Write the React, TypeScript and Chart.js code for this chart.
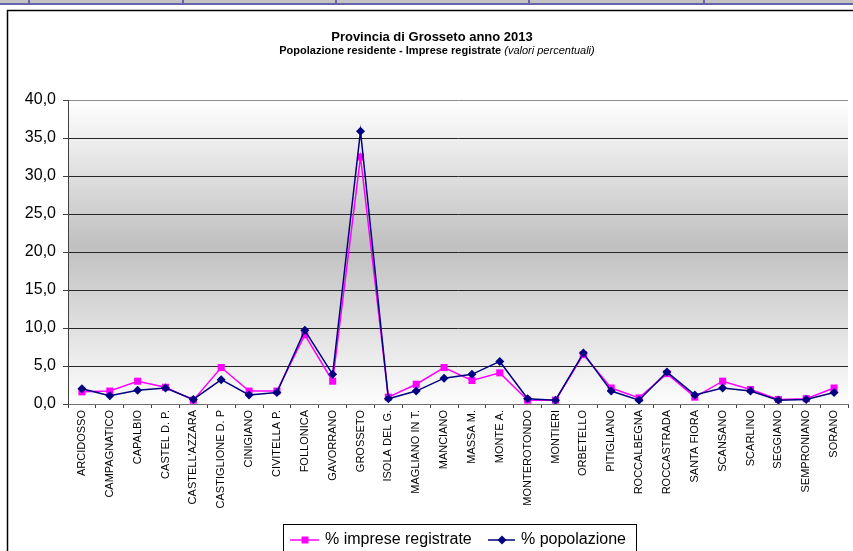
import React, { useEffect, useRef } from 'react';
import { Chart, registerables } from 'chart.js';

Chart.register(...registerables);

const FONT = 'Arial, "Liberation Sans", sans-serif';

const categories = [
  'ARCIDOSSO', 'CAMPAGNATICO', 'CAPALBIO', 'CASTEL D. P.', "CASTELL'AZZARA", 'CASTIGLIONE D. P',
  'CINIGIANO', 'CIVITELLA P.', 'FOLLONICA', 'GAVORRANO', 'GROSSETO', 'ISOLA DEL G.',
  'MAGLIANO IN T.', 'MANCIANO', 'MASSA M.', 'MONTE A.', 'MONTEROTONDO', 'MONTIERI',
  'ORBETELLO', 'PITIGLIANO', 'ROCCALBEGNA', 'ROCCASTRADA', 'SANTA FIORA', 'SCANSANO',
  'SCARLINO', 'SEGGIANO', 'SEMPRONIANO', 'SORANO',
];

const impreseRegistrate = [
  1.6, 1.7, 3.0, 2.2, 0.5, 4.8,
  1.7, 1.7, 9.1, 3.0, 32.5, 0.9,
  2.6, 4.8, 3.1, 4.1, 0.5, 0.5,
  6.5, 2.1, 0.8, 4.0, 0.9, 3.0,
  1.9, 0.6, 0.7, 2.1,
];

const popolazione = [
  2.0, 1.1, 1.8, 2.1, 0.6, 3.2,
  1.2, 1.5, 9.7, 3.9, 35.9, 0.7,
  1.7, 3.4, 3.9, 5.6, 0.7, 0.5,
  6.7, 1.7, 0.5, 4.2, 1.2, 2.1,
  1.7, 0.5, 0.6, 1.5,
];

const titleText = 'Provincia di Grosseto anno 2013';
const subtitleBold = 'Popolazione residente - Imprese registrate';
const subtitleItalic = '(valori percentuali)';
const seriesLabels = ['% imprese registrate', '% popolazione'];

const IMPRESE_COLOR = '#ff00ff';
const POP_COLOR = '#000080';

const decorPlugin = {
  id: 'decor',
  beforeDraw(chart: any) {
    const ctx = chart.ctx as CanvasRenderingContext2D;
    const { width, height } = chart;
    ctx.save();
    ctx.fillStyle = '#ffffff';
    ctx.fillRect(0, 0, width, height);
    // spreadsheet strip
    ctx.fillStyle = '#c4c4c4';
    ctx.fillRect(0, 0, width, 3);
    ctx.fillStyle = '#6464a8';
    ctx.fillRect(0, 3, width, 2);
    [29, 183, 336, 529, 704].forEach((x) => ctx.fillRect(x - 1, 0, 2, 5));
    // chart frame
    ctx.strokeStyle = '#000000';
    ctx.lineWidth = 1.5;
    ctx.strokeRect(7.5, 10.5, width + 20, height + 20);
    // titles
    ctx.fillStyle = '#000000';
    ctx.textBaseline = 'middle';
    ctx.textAlign = 'center';
    ctx.font = `bold 13px ${FONT}`;
    ctx.fillText(titleText, 432, 37);
    ctx.textAlign = 'left';
    ctx.font = `bold 11px ${FONT}`;
    const w1 = ctx.measureText(subtitleBold + ' ').width;
    ctx.font = `italic 11px ${FONT}`;
    const w2 = ctx.measureText(subtitleItalic).width;
    const x0 = 437 - (w1 + w2) / 2;
    ctx.font = `bold 11px ${FONT}`;
    ctx.fillText(subtitleBold, x0, 51);
    ctx.font = `italic 11px ${FONT}`;
    ctx.fillText(subtitleItalic, x0 + w1, 51);
    // plot background gradient
    const a = chart.chartArea;
    const g = ctx.createLinearGradient(0, a.top, 0, a.bottom);
    g.addColorStop(0, '#ffffff');
    g.addColorStop(0.48, '#c0c0c0');
    g.addColorStop(1, '#fdfdfd');
    ctx.fillStyle = g;
    ctx.fillRect(a.left, a.top, a.right - a.left, a.bottom - a.top);
    ctx.restore();
  },
  afterDraw(chart: any) {
    const ctx = chart.ctx as CanvasRenderingContext2D;
    ctx.save();
    ctx.strokeStyle = '#000000';
    ctx.lineWidth = 1;
    ctx.strokeRect(283.5, 524.5, 353, 40);
    const cy = 540;
    // imprese sample
    ctx.strokeStyle = IMPRESE_COLOR;
    ctx.lineWidth = 1.5;
    ctx.beginPath();
    ctx.moveTo(290, cy);
    ctx.lineTo(319, cy);
    ctx.stroke();
    ctx.fillStyle = IMPRESE_COLOR;
    ctx.fillRect(305 - 3.5, cy - 3.5, 7, 7);
    // pop sample
    ctx.strokeStyle = POP_COLOR;
    ctx.beginPath();
    ctx.moveTo(488, cy);
    ctx.lineTo(515, cy);
    ctx.stroke();
    ctx.fillStyle = POP_COLOR;
    ctx.beginPath();
    ctx.moveTo(502, cy - 4.5);
    ctx.lineTo(506.5, cy);
    ctx.lineTo(502, cy + 4.5);
    ctx.lineTo(497.5, cy);
    ctx.closePath();
    ctx.fill();
    ctx.fillStyle = '#000000';
    ctx.font = `16px ${FONT}`;
    ctx.textBaseline = 'middle';
    ctx.textAlign = 'left';
    ctx.fillText(seriesLabels[0], 325, cy);
    ctx.fillText(seriesLabels[1], 521, cy);
    ctx.restore();
  },
};

export default function App() {
  const ref = useRef<HTMLCanvasElement | null>(null);

  useEffect(() => {
    if (!ref.current) return;
    const chart = new Chart(ref.current, {
      type: 'line',
      data: {
        labels: categories,
        datasets: [
          {
            label: seriesLabels[1],
            data: popolazione,
            borderColor: POP_COLOR,
            backgroundColor: POP_COLOR,
            borderWidth: 1.5,
            pointStyle: 'rectRot',
            pointRadius: 4.5,
            pointBorderWidth: 0,
            pointBackgroundColor: POP_COLOR,
            tension: 0,
            order: 0,
          },
          {
            label: seriesLabels[0],
            data: impreseRegistrate,
            borderColor: IMPRESE_COLOR,
            backgroundColor: IMPRESE_COLOR,
            borderWidth: 1.5,
            pointStyle: 'rect',
            pointRadius: 5,
            pointBorderWidth: 0,
            pointBackgroundColor: IMPRESE_COLOR,
            tension: 0,
            order: 1,
          },
        ],
      },
      options: {
        responsive: false,
        animation: false,
        layout: { padding: { top: 100, left: 8, right: 0, bottom: 0 } },
        plugins: {
          legend: { display: false },
          title: { display: false },
          tooltip: { enabled: false },
        },
        scales: {
          x: {
            offset: true,
            grid: {
              display: true,
              drawOnChartArea: false,
              drawTicks: true,
              tickLength: 4,
              color: '#404040',
              offset: true,
            },
            border: { display: true, color: '#707070', width: 1 },
            ticks: {
              autoSkip: false,
              maxRotation: 90,
              minRotation: 90,
              padding: 2,
              color: '#000000',
              font: { family: FONT, size: 11 },
            },
            afterFit: (s: any) => {
              s.height = 147;
            },
          },
          y: {
            min: 0,
            max: 40,
            ticks: {
              stepSize: 5,
              padding: 7,
              color: '#000000',
              font: { family: FONT, size: 16 },
              callback: (v: any) => Number(v).toFixed(1).replace('.', ','),
            },
            grid: {
              color: (c: any) => (c.tick && c.tick.value === 40 ? '#8c8c8c' : '#262626'),
              tickColor: '#404040',
              tickLength: 5,
              drawTicks: true,
              lineWidth: 1,
            },
            border: { display: true, color: '#404040' },
            afterFit: (s: any) => {
              s.width = 60;
            },
          },
        },
      },
      plugins: [decorPlugin],
    });
    return () => chart.destroy();
  }, []);

  return (
    <div style={{ position: 'fixed', left: 0, top: 0, width: 853, height: 551, overflow: 'hidden', background: '#fff' }}>
      <canvas ref={ref} width={853} height={551} style={{ display: 'block' }} />
    </div>
  );
}
